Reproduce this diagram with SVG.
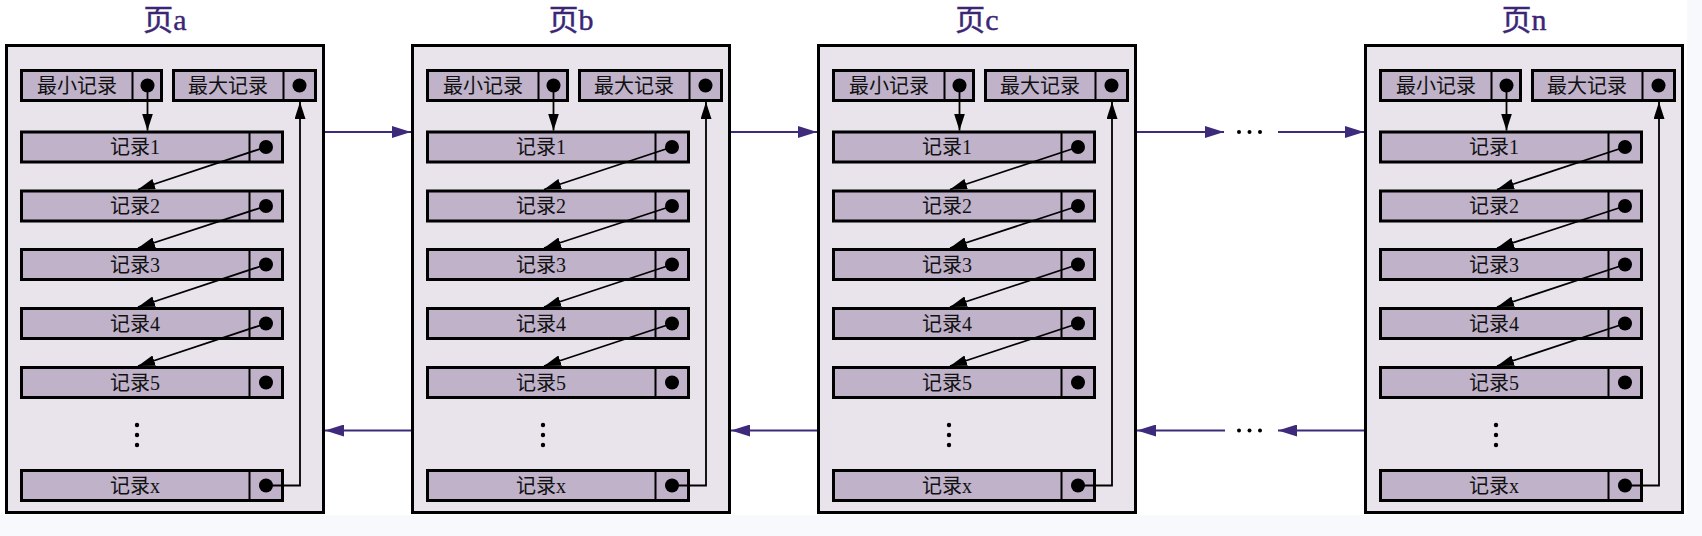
<svg xmlns="http://www.w3.org/2000/svg" xmlns:xlink="http://www.w3.org/1999/xlink" width="1702" height="536" viewBox="0 0 1702 536">
<style>
.frame{fill:#e9e4ec;stroke:#000;stroke-width:3}
.box{fill:#bfb2c9;stroke:#000;stroke-width:3}
.dv{stroke:#000;stroke-width:2}
.dot{fill:#000}
.sdot{fill:#000}
.lbl{font-family:"Liberation Serif","Noto Sans CJK SC",serif;font-size:20px;text-anchor:middle;fill:#111}
.title{font-family:"Liberation Serif","Noto Sans CJK SC",serif;font-size:30px;text-anchor:middle;fill:#3b2676;stroke:#3b2676;stroke-width:0.4}
.ptr{stroke:#000;stroke-width:1.8;fill:none;marker-end:url(#ah)}
.link{stroke:#3d2a7a;stroke-width:2;fill:none;marker-end:url(#ahp)}
</style>
<defs>
<marker id="ah" markerUnits="userSpaceOnUse" markerWidth="17" markerHeight="11" refX="17" refY="5.5" orient="auto"><path d="M0,0 L17,5.5 L0,11 z" fill="#000"/></marker>
<marker id="ahp" markerUnits="userSpaceOnUse" markerWidth="19" markerHeight="12" refX="19" refY="6" orient="auto"><path d="M0,0 L19,6 L0,12 z" fill="#3d2a7a"/></marker>
<g id="pageBody">
<rect class="frame" x="1.5" y="45.5" width="317" height="467"/>
<g id="minrec"><rect class="box" x="16.5" y="70.5" width="140" height="30"/><line class="dv" x1="127.5" y1="70.5" x2="127.5" y2="100.5"/><circle class="dot" cx="142.5" cy="85.5" r="7"/><text class="lbl" x="72" y="93">最小记录</text></g>
<g id="maxrec"><rect class="box" x="168.5" y="70.5" width="142" height="30"/><line class="dv" x1="278.5" y1="70.5" x2="278.5" y2="100.5"/><circle class="dot" cx="294.5" cy="85.5" r="7"/><text class="lbl" x="223" y="93">最大记录</text></g>
<g id="r1"><rect class="box" x="16.5" y="132" width="261" height="30"/><line class="dv" x1="244.5" y1="132" x2="244.5" y2="162"/><circle class="dot" cx="261" cy="147" r="7"/><text class="lbl" x="130" y="154">记录1</text></g>
<g id="r2"><rect class="box" x="16.5" y="191" width="261" height="30"/><line class="dv" x1="244.5" y1="191" x2="244.5" y2="221"/><circle class="dot" cx="261" cy="206" r="7"/><text class="lbl" x="130" y="213">记录2</text></g>
<g id="r3"><rect class="box" x="16.5" y="249.5" width="261" height="30"/><line class="dv" x1="244.5" y1="249.5" x2="244.5" y2="279.5"/><circle class="dot" cx="261" cy="264.5" r="7"/><text class="lbl" x="130" y="271.5">记录3</text></g>
<g id="r4"><rect class="box" x="16.5" y="308.5" width="261" height="30"/><line class="dv" x1="244.5" y1="308.5" x2="244.5" y2="338.5"/><circle class="dot" cx="261" cy="323.5" r="7"/><text class="lbl" x="130" y="330.5">记录4</text></g>
<g id="r5"><rect class="box" x="16.5" y="367.5" width="261" height="30"/><line class="dv" x1="244.5" y1="367.5" x2="244.5" y2="397.5"/><circle class="dot" cx="261" cy="382.5" r="7"/><text class="lbl" x="130" y="389.5">记录5</text></g>
<g id="vdots"><circle class="sdot" cx="132" cy="425" r="2.2"/><circle class="sdot" cx="132" cy="435" r="2.2"/><circle class="sdot" cx="132" cy="445" r="2.2"/></g>
<g id="rx"><rect class="box" x="16.5" y="470.5" width="261" height="30"/><line class="dv" x1="244.5" y1="470.5" x2="244.5" y2="500.5"/><circle class="dot" cx="261" cy="485.5" r="7"/><text class="lbl" x="130" y="492.5">记录x</text></g>
</g>
<g id="pagePtrs">
<path class="ptr" d="M142.5,86 V130.5"/>
<path class="ptr" d="M261,147 L133,189.5"/>
<path class="ptr" d="M261,206 L133,248"/>
<path class="ptr" d="M261,264.5 L133,307"/>
<path class="ptr" d="M261,323.5 L133,366"/>
<path class="ptr" d="M261,485.5 H295 V102"/>
</g>
</defs>
<rect x="0" y="0" width="1702" height="536" fill="#f8f9fc"/>
<rect x="0" y="0" width="1687" height="515" fill="#ffffff"/>
<g id="page-a" transform="translate(5,0)"><text class="title" x="160" y="30">页a</text><use xlink:href="#pageBody"/></g>
<g id="page-b" transform="translate(411,0)"><text class="title" x="160" y="30">页b</text><use xlink:href="#pageBody"/></g>
<g id="page-c" transform="translate(817,0)"><text class="title" x="160" y="30">页c</text><use xlink:href="#pageBody"/></g>
<g id="page-n" transform="translate(1364,0)"><text class="title" x="160" y="30">页n</text><use xlink:href="#pageBody"/></g>
<g id="connectors">
<use xlink:href="#pagePtrs" transform="translate(5,0)"/>
<use xlink:href="#pagePtrs" transform="translate(411,0)"/>
<use xlink:href="#pagePtrs" transform="translate(817,0)"/>
<use xlink:href="#pagePtrs" transform="translate(1364,0)"/>
<path class="link" d="M325,132 H411"/>
<path class="link" d="M731,132 H817"/>
<path class="link" d="M1137,132 H1224"/>
<path class="link" d="M1278,132 H1364"/>
<path class="link" d="M411,430.5 H325"/>
<path class="link" d="M817,430.5 H731"/>
<path class="link" d="M1225,430.5 H1137"/>
<path class="link" d="M1364,430.5 H1278"/>
<g id="hdots"><circle class="sdot" cx="1239" cy="132" r="2"/><circle class="sdot" cx="1249.5" cy="132" r="2"/><circle class="sdot" cx="1260" cy="132" r="2"/><circle class="sdot" cx="1239" cy="430.5" r="2"/><circle class="sdot" cx="1249.5" cy="430.5" r="2"/><circle class="sdot" cx="1260" cy="430.5" r="2"/></g>
</g>
</svg>
